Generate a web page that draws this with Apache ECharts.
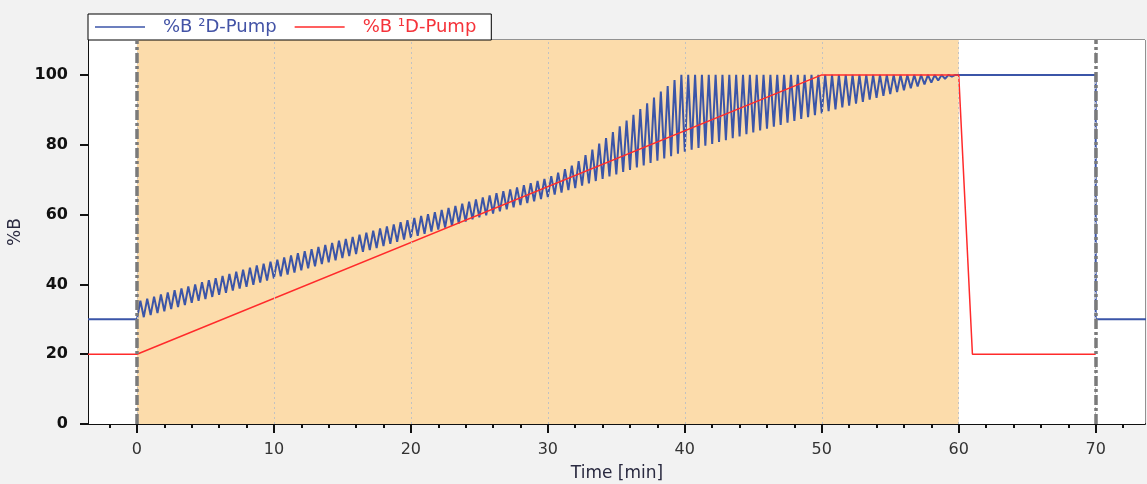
<!DOCTYPE html>
<html>
<head>
<meta charset="utf-8">
<script src="https://cdn.jsdelivr.net/npm/echarts@6/dist/echarts.min.js"></script>
<style>
html, body { margin: 0; padding: 0; background: #f2f2f2; }
#ech { width: 1147px; height: 484px; }
</style>
</head>
<body>
<div id="ech"></div>
<script>
// axis ticks
var xMajor = [0, 10, 20, 30, 40, 50, 60, 70];
var xMinor = [-2, 2, 4, 6, 8, 12, 14, 16, 18, 22, 24, 26, 28, 32, 34, 36, 38, 42, 44, 46, 48, 52, 54, 56, 58, 62, 64, 66, 68, 72];
var yMajor = [0, 20, 40, 60, 80, 100];
var yMinor = [5, 10, 15, 25, 30, 35, 45, 50, 55, 65, 70, 75, 85, 90, 95, 105];

// %B 1D-Pump : [time, %B]
var red1D = [[-5, 20], [0, 20], [50, 100], [60, 100], [61, 20], [70, 20]];

// %B 2D-Pump : hold before / after the run, and the modulation cycles in between
var blueBefore = [[-5, 30]];
var blueAfter = [[60, 100], [70, 100], [70, 30], [75, 30]];
var cycleMin = 0.5;
// start-of-cycle (low) and mid-cycle (high) values, one per cycle from 0 to 60 min
var blueLow = [
	30.0, 30.6, 31.2, 31.8, 32.3, 32.9, 33.5, 34.1, 34.7, 35.3,
	35.8, 36.4, 37.0, 37.6, 38.2, 38.8, 39.3, 39.9, 40.5, 41.1,
	41.7, 42.3, 42.8, 43.4, 44.0, 44.6, 45.2, 45.8, 46.3, 46.9,
	47.5, 48.1, 48.7, 49.3, 49.8, 50.4, 51.0, 51.6, 52.2, 52.8,
	53.3, 53.9, 54.5, 55.1, 55.7, 56.3, 56.8, 57.4, 58.0, 58.6,
	59.2, 59.8, 60.3, 60.9, 61.5, 62.1, 62.7, 63.3, 63.8, 64.4,
	65.0, 65.7, 66.3, 67.0, 67.6, 68.3, 68.9, 69.6, 70.2, 70.9,
	71.5, 72.2, 72.8, 73.5, 74.1, 74.8, 75.4, 76.1, 76.7, 77.4,
	78.0, 78.6, 79.1, 79.7, 80.2, 80.8, 81.3, 81.9, 82.4, 83.0,
	83.5, 84.1, 84.6, 85.2, 85.7, 86.3, 86.8, 87.4, 87.9, 88.5,
	89.0, 89.6, 90.1, 90.7, 91.2, 91.8, 92.3, 92.9, 93.4, 94.0,
	94.5, 95.1, 95.6, 96.2, 96.7, 97.3, 97.8, 98.4, 98.9, 99.5
];
var blueHigh = [
	35.3, 35.9, 36.5, 37.1, 37.7, 38.3, 38.8, 39.4, 40.0, 40.6,
	41.2, 41.8, 42.4, 43.0, 43.6, 44.2, 44.8, 45.4, 45.9, 46.5,
	47.1, 47.7, 48.3, 48.9, 49.5, 50.1, 50.7, 51.3, 51.9, 52.5,
	53.0, 53.6, 54.2, 54.8, 55.4, 56.0, 56.6, 57.2, 57.8, 58.4,
	59.0, 59.6, 60.1, 60.7, 61.3, 61.9, 62.5, 63.1, 63.7, 64.3,
	64.9, 65.5, 66.1, 66.7, 67.2, 67.8, 68.4, 69.0, 69.6, 70.2,
	71.0, 72.0, 73.0, 74.0, 75.3, 77.0, 78.6, 80.3, 81.9, 83.6,
	85.3, 86.9, 88.6, 90.2, 91.9, 93.5, 95.2, 96.8, 98.5, 100,
	100, 100, 100, 100, 100, 100, 100, 100, 100, 100,
	100, 100, 100, 100, 100, 100, 100, 100, 100, 100,
	100, 100, 100, 100, 100, 100, 100, 100, 100, 100,
	100, 100, 100, 100, 100, 100, 100, 100, 100, 100
];

var shadeRange = [0, 60];
var markerTimes = [0, 70];

var xMin = -3.5, xMax = 73.6;
var yMin = 0, yMax = 110;

function show() {
	var blue2D = blueBefore.slice();
	for (var k = 0; k < blueLow.length; k++) {
		blue2D.push([k * cycleMin, blueLow[k]]);
		blue2D.push([k * cycleMin + cycleMin / 2, blueHigh[k]]);
	}
	blue2D = blue2D.concat(blueAfter);
	showEchart(blue2D, red1D);
}

function showEchart(blueData, redData) {
	var myChart = echarts.init(document.getElementById('ech'), null, {renderer: 'canvas'});
	var font = 'DejaVu Sans';
	var gridLine = {color: '#c2c2c2', width: 1, type: [2, 3]};

	var option = {
		backgroundColor: '#f2f2f2',
		animation: false,
		textStyle: {fontFamily: font},
		legend: {
			data: [
				{name: '%B ²D-Pump', textStyle: {color: '#4353a6'}},
				{name: '%B ¹D-Pump', textStyle: {color: '#f5333a'}}
			],
			left: 88,
			top: 14,
			orient: 'horizontal',
			icon: 'rect',
			padding: [4, 15, 4, 7],
			itemWidth: 50,
			itemHeight: 1.5,
			itemGap: 18,
			backgroundColor: '#ffffff',
			borderColor: '#000000',
			borderWidth: 1,
			borderRadius: 0,
			textStyle: {fontFamily: font, fontSize: 18, lineHeight: 18, padding: [0, 0, 0, 13]}
		},
		grid: {
			left: 89, right: 2, top: 40, bottom: 60,
			show: true,
			backgroundColor: 'transparent',
			borderColor: '#333333',
			borderWidth: 1,
			containLabel: false,
			outerBoundsMode: 'none'
		},
		xAxis: [{
			type: 'value',
			min: xMin, max: xMax,
			name: 'Time [min]',
			nameLocation: 'middle',
			nameGap: 41,
			nameTextStyle: {fontFamily: font, fontSize: 17, color: '#2a2a40'},
			axisLine: {show: true, onZero: false, lineStyle: {color: '#111', width: 2}},
			axisTick: {show: true, length: 9, customValues: xMajor, lineStyle: {color: '#111', width: 2}},
			axisLabel: {customValues: xMajor, margin: 18, fontFamily: font, fontSize: 16, color: '#333'},
			splitLine: {show: false}
		}, {
			type: 'value',
			min: xMin, max: xMax,
			position: 'bottom',
			axisLine: {show: false},
			axisTick: {show: true, length: 4, customValues: xMinor, lineStyle: {color: '#111', width: 2}},
			axisLabel: {show: false},
			splitLine: {show: false}
		}],
		yAxis: [{
			type: 'value',
			min: yMin, max: yMax, interval: 20,
			name: '%B',
			nameLocation: 'middle',
			nameRotate: 90,
			nameGap: 56,
			nameTextStyle: {fontFamily: font, fontSize: 17, color: '#2a2a40'},
			axisLine: {show: true, onZero: false, lineStyle: {color: '#111', width: 2}},
			axisTick: {show: true, length: 9, customValues: yMajor, lineStyle: {color: '#111', width: 2}},
			axisLabel: {customValues: yMajor, margin: 21, fontFamily: font, fontSize: 16, fontWeight: 'bold', color: '#111'},
			splitLine: {show: true, lineStyle: gridLine}
		}, {
			type: 'value',
			min: yMin, max: yMax,
			position: 'left',
			axisLine: {show: false},
			axisTick: {show: true, length: 4, customValues: yMinor, lineStyle: {color: '#111', width: 2}},
			axisLabel: {show: false},
			splitLine: {show: false}
		}],
		series: [{
			// white plot area
			type: 'line', data: [], z: -3, silent: true,
			markArea: {silent: true, itemStyle: {color: '#ffffff'}, data: [[{xAxis: xMin}, {xAxis: xMax}]]}
		}, {
			// gradient run shading
			type: 'line', data: [], z: -2, silent: true,
			markArea: {silent: true, itemStyle: {color: '#fcdcab'}, data: [[{xAxis: shadeRange[0]}, {xAxis: shadeRange[1]}]]}
		}, {
			// vertical grid lines
			type: 'line', data: [], z: -1, silent: true,
			markLine: {
				silent: true, symbol: ['none', 'none'], label: {show: false},
				lineStyle: gridLine,
				data: xMajor.map(function(v) { return {xAxis: v}; })
			}
		}, {
			name: '%B ²D-Pump',
			type: 'line',
			data: blueData,
			symbol: 'none',
			lineStyle: {color: '#3b55a8', width: 2},
			itemStyle: {color: '#3b55a8'}
		}, {
			name: '%B ¹D-Pump',
			type: 'line',
			data: redData,
			symbol: 'none',
			lineStyle: {color: '#ff2b2b', width: 1.5},
			itemStyle: {color: '#ff2b2b'}
		}, {
			// injection / end markers
			type: 'line', data: [], z: 5, silent: true,
			markLine: {
				silent: true, symbol: ['none', 'none'], label: {show: false},
				lineStyle: {color: '#7a7a7a', width: 3.5, type: [10, 3, 3, 3]},
				data: markerTimes.map(function(v) { return {xAxis: v}; })
			}
		}]
	};

	myChart.setOption(option);
}

show();
</script>
</body>
</html>
